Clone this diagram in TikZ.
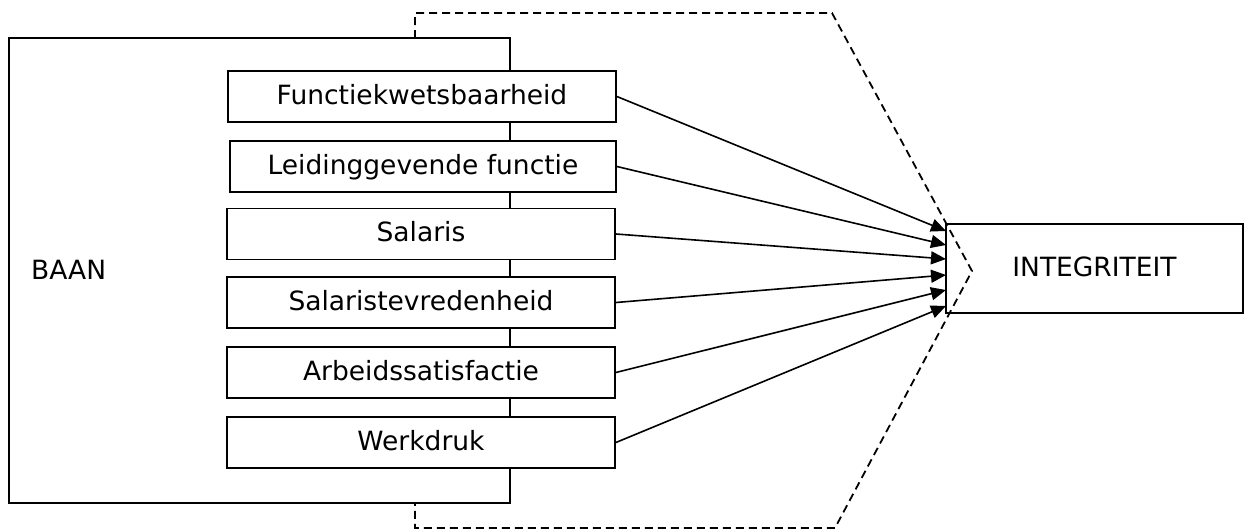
\documentclass[tikz,border=0pt]{standalone}
\usepackage{fontspec}
\setmainfont{DejaVu Sans}
\usetikzlibrary{arrows.meta}
\begin{document}
\begin{tikzpicture}[x=1pt,y=-1pt,
  txt/.style={font=\fontsize{26.5}{31}\selectfont, text height=19pt, text depth=4pt},
  box/.style={draw, line width=1.8pt, fill=white, minimum width=388pt, minimum height=51pt, inner sep=0pt, txt},
  conn/.style={line width=1.6pt, -{Triangle[length=15pt,width=13pt]}},
  dashline/.style={line width=1.8pt, dash pattern=on 8pt off 5pt}]
\useasboundingbox (0,0) rectangle (1245,530);
% dashed frame
\draw[dashline] (415,38) -- (415,13) -- (832,13) -- (972,271) -- (835,528) -- (415,528) -- (415,503);
% outer BAAN box
\node[draw, line width=1.8pt, minimum width=501pt, minimum height=465pt, inner sep=0pt] (outer) at (259.5,270.5) {};
\node[txt, anchor=west, inner sep=0pt] (baan) at (31,272) {BAAN};
% inner boxes
\node[box] (b1) at (422,96.5) {Functiekwetsbaarheid};
\node[box, minimum width=386pt] (b2) at (423,166.5) {Leidinggevende functie};
\node[box] (b3) at (421,234) {Salaris};
\node[box] (b4) at (421,302.5) {Salaristevredenheid};
\node[box] (b5) at (421,372.5) {Arbeidssatisfactie};
\node[box] (b6) at (421,442.5) {Werkdruk};
% target box
\node[draw, line width=1.8pt, minimum width=297pt, minimum height=89pt, inner sep=0pt, txt] (integ) at (1094.5,268.5) {INTEGRITEIT};
% arrow tips
\coordinate (t1) at (946,231);
\coordinate (t2) at (946,245);
\coordinate (t3) at (946,259);
\coordinate (t4) at (946,275);
\coordinate (t5) at (946,290);
\coordinate (t6) at (946,306);
\draw[conn] (b1.east) -- (t1);
\draw[conn] (b2.east) -- (t2);
\draw[conn] (b3.east) -- (t3);
\draw[conn] (b4.east) -- (t4);
\draw[conn] (b5.east) -- (t5);
\draw[conn] (b6.east) -- (t6);
\end{tikzpicture}
\end{document}
